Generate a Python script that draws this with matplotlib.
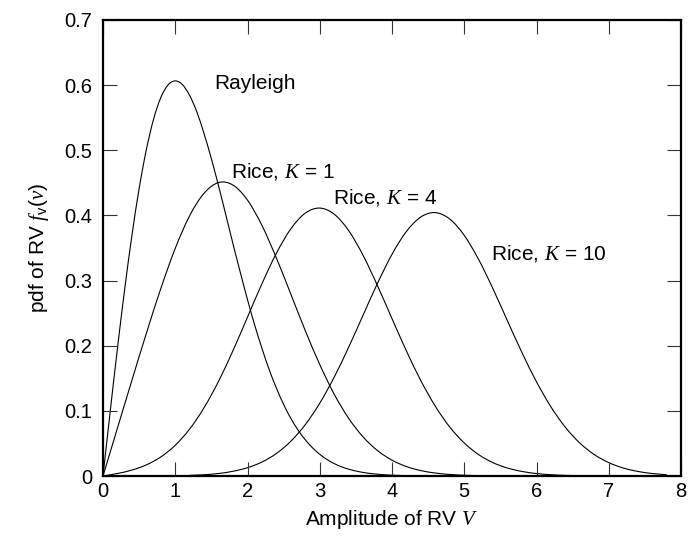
import numpy as np
import matplotlib
matplotlib.use("Agg")
import matplotlib.pyplot as plt
from matplotlib.path import Path
from matplotlib.patches import PathPatch

plt.rcParams['font.family'] = ['Liberation Sans', 'DejaVu Sans']
plt.rcParams['mathtext.fontset'] = 'custom'
plt.rcParams['mathtext.rm'] = 'Liberation Sans'
plt.rcParams['mathtext.it'] = 'Liberation Serif:italic'
plt.rcParams['mathtext.bf'] = 'Liberation Sans:bold'

# amplitude samples for each curve
v_rayleigh = np.round(np.arange(0, 4.65, 0.1), 1)
v_k1 = np.round(np.arange(0, 6.25, 0.2), 1)
v_k4 = np.round(np.arange(0, 7.05, 0.2), 1)
v_k10 = np.round(np.arange(1.2, 7.85, 0.2), 1)

# pdf values
pdf_rayleigh = [0, 0.0995, 0.196, 0.2868, 0.369, 0.4412, 0.501, 0.5478, 0.581, 0.6003,
                0.6065, 0.6007, 0.584, 0.5585, 0.525, 0.487, 0.445, 0.4008, 0.356, 0.3127,
                0.2707, 0.2315, 0.196, 0.1633, 0.135, 0.1098, 0.0885, 0.0705, 0.0556, 0.0433,
                0.0333, 0.0254, 0.0191, 0.0142, 0.0105, 0.0077, 0.0055, 0.0039, 0.0028, 0.0019,
                0.0013, 0.0009, 0.0006, 0.0004, 0.0003, 0.0002, 0.0001]
pdf_k1 = [0, 0.0736, 0.1469, 0.219, 0.2878, 0.3495, 0.3997, 0.4342, 0.4505, 0.4465,
          0.4235, 0.3846, 0.3346, 0.2791, 0.2231, 0.1711, 0.1256, 0.0886, 0.06, 0.039,
          0.0243, 0.0145, 0.0083, 0.0046, 0.0024, 0.0012, 0.0006, 0.0003, 0.0001, 0.0001,
          0, 0]
pdf_k4 = [0, 0.0039, 0.0091, 0.0171, 0.0293, 0.0472, 0.0722, 0.1051, 0.1456, 0.1928,
          0.2439, 0.2952, 0.342, 0.3795, 0.4036, 0.4113, 0.4019, 0.3767, 0.3386, 0.292,
          0.2416, 0.1919, 0.1462, 0.107, 0.0751, 0.0507, 0.0328, 0.0204, 0.0122, 0.007,
          0.0038, 0.002, 0.001, 0.0005, 0.0002, 0.0001]
pdf_k10 = [0.001, 0.002, 0.0039, 0.0073, 0.0128, 0.0215, 0.0346, 0.0534, 0.0789, 0.1118,
           0.1518, 0.1977, 0.247, 0.296, 0.3403, 0.3755, 0.3977, 0.4043, 0.3944, 0.3694,
           0.3322, 0.2868, 0.2377, 0.1892, 0.1446, 0.1061, 0.0748, 0.0506, 0.0329, 0.0206,
           0.0123, 0.0071, 0.0039, 0.0021]

curve_labels = ["Rayleigh", "Rice, $K$ = 1", "Rice, $K$ = 4", "Rice, $K$ = 10"]
label_pos = [(1.536, 0.5945), (1.772, 0.4588), (3.188, 0.4189), (5.366, 0.3329)]


def smooth_path(xs, ys):
    # cubic bezier segments passing through every read point (catmull-rom style)
    p = np.column_stack([xs, ys]).astype(float)
    ext = np.vstack([p[0], p, p[-1]])
    verts = [p[0]]
    codes = [Path.MOVETO]
    for i in range(len(p) - 1):
        c1 = ext[i + 1] + (ext[i + 2] - ext[i]) / 6.0
        c2 = ext[i + 2] - (ext[i + 3] - ext[i + 1]) / 6.0
        verts += [c1, c2, ext[i + 2]]
        codes += [Path.CURVE4] * 3
    return Path(verts, codes)


fig = plt.figure(figsize=(6.89, 5.36), dpi=100)
ax = fig.add_subplot(1, 1, 1)
fig.subplots_adjust(left=0.1495, right=0.9884, top=0.9627, bottom=0.1119)

for xs, ys in [(v_rayleigh, pdf_rayleigh), (v_k1, pdf_k1), (v_k4, pdf_k4), (v_k10, pdf_k10)]:
    ax.add_patch(PathPatch(smooth_path(xs, ys), facecolor='none', edgecolor='black', lw=0.8))

for txt, (x, y) in zip(curve_labels, label_pos):
    ax.text(x, y, txt, fontsize=15, ha='left', va='baseline')

ax.set_xlim(0, 8)
ax.set_ylim(0, 0.7)
ax.set_xticks(range(0, 9))
ax.set_yticks(np.arange(0, 0.71, 0.1))
ax.set_yticklabels(['0', '0.1', '0.2', '0.3', '0.4', '0.5', '0.6', '0.7'])
ax.tick_params(direction='in', length=10, width=0.8, color='#333333',
               top=True, right=True, labelsize=14.5)
ax.tick_params(axis='x', pad=4)
ax.tick_params(axis='y', pad=8)
for s in ax.spines.values():
    s.set_linewidth(1.6)

ax.set_xlabel("Amplitude of RV $V$", fontsize=15, labelpad=5)
ax.set_ylabel(r"pdf of RV $f_{\mathrm{v}}(v)$", fontsize=15, labelpad=9)
plt.grid(False)
fig.savefig("out.png", dpi=100)
